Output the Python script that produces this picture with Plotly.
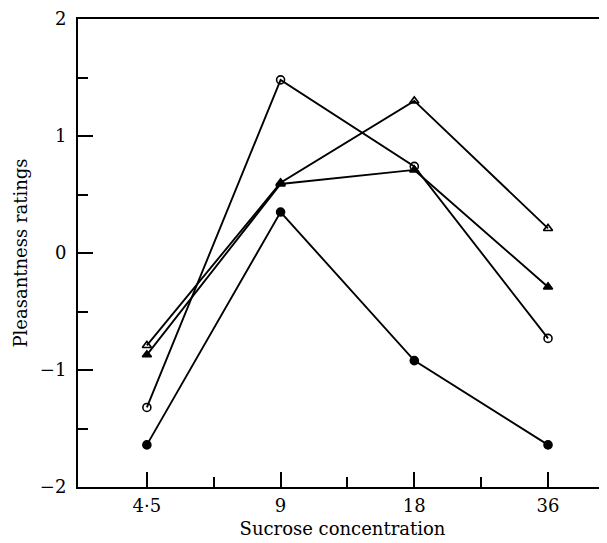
import plotly.graph_objects as go
import math

concentration = [4.5, 9, 18, 36]
tick_labels = ["4·5", "9", "18", "36"]
open_triangle = [-0.79, 0.60, 1.30, 0.21]
filled_triangle = [-0.87, 0.59, 0.71, -0.29]
open_circle = [-1.32, 1.48, 0.74, -0.73]
filled_circle = [-1.64, 0.35, -0.92, -1.64]
minor_x = [4.5 * math.sqrt(2), 9 * math.sqrt(2), 18 * math.sqrt(2)]

series = [
    ("open circle", open_circle, "circle-open", 8),
    ("filled circle", filled_circle, "circle", 8),
    ("open triangle", open_triangle, "triangle-up-open", 8),
    ("filled triangle", filled_triangle, "triangle-up", 8),
]

fig = go.Figure()
for name, ys, sym, sz in series:
    fig.add_trace(go.Scatter(
        x=concentration, y=ys, mode="lines+markers", name=name,
        line=dict(color="black", width=1.9),
        marker=dict(symbol=sym, size=sz, color="black",
                    line=dict(color="black", width=1.6)),
        showlegend=False,
    ))

FONT = "DejaVu Serif, Liberation Serif, serif"
lg = math.log10(2)
fig.update_layout(
    width=607, height=543,
    margin=dict(l=70, r=8, t=11, b=64),
    plot_bgcolor="white", paper_bgcolor="white",
    font=dict(family=FONT, size=18, color="black"),
    xaxis=dict(
        type="log", automargin=False,
        range=[math.log10(4.5) - 0.515 * lg, math.log10(36) + 0.441 * lg],
        tickvals=concentration, ticktext=tick_labels,
        ticks="inside", ticklen=15, tickwidth=1.5, tickcolor="black",
        showline=True, linecolor="black", linewidth=2, mirror=True,
        showgrid=False, zeroline=False,
        minor=dict(tickvals=minor_x, ticks="inside", ticklen=10,
                   tickwidth=1.5, tickcolor="black", showgrid=False),
        title=dict(text="Sucrose concentration", standoff=8,
                   font=dict(family=FONT, size=18)),
        tickfont=dict(family=FONT, size=18),
        ticklabelstandoff=1,
        ticklabeloverflow="allow",
    ),
    yaxis=dict(
        range=[-2, 2], automargin=False,
        tickvals=[-2, -1, 0, 1, 2],
        ticks="inside", ticklen=15, tickwidth=1.5, tickcolor="black",
        showline=True, linecolor="black", linewidth=2, mirror=False,
        showgrid=False, zeroline=False,
        minor=dict(tickvals=[-1.5, -0.5, 0.5, 1.5], ticks="inside",
                   ticklen=10, tickwidth=1.5, tickcolor="black", showgrid=False),
        title=dict(text="Pleasantness ratings", standoff=8,
                   font=dict(family=FONT, size=18)),
        tickfont=dict(family=FONT, size=18),
        ticklabelstandoff=6,
        ticklabeloverflow="allow",
    ),
)

fig.write_html("out.html")
